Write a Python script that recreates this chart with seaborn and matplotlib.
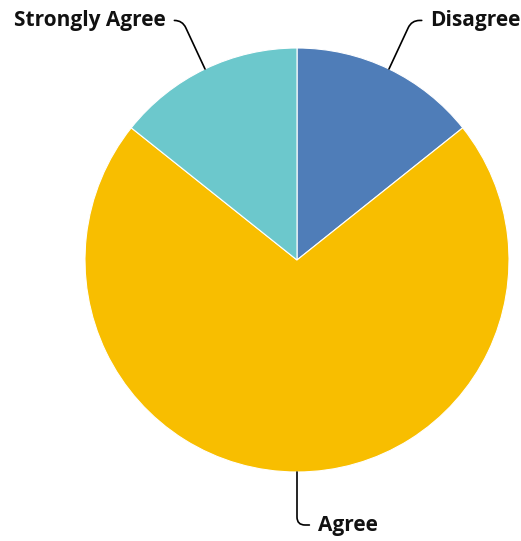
import matplotlib.pyplot as plt
import numpy as np
import seaborn as sns

labels = ["Disagree", "Agree", "Strongly Agree"]
counts = [1, 5, 1]
colors = ["#4F7DB8", "#F8BE00", "#6CC8CC"]

# label text placement (data units, pie radius = 1) and leader line angles
label_pos = [(0.63, 1.13), (0.10, -1.25), (-0.62, 1.13)]
label_ha = ["left", "left", "right"]
line_angle = [65, 90, 115]

sns.set_theme(style="white")
plt.rcParams["font.family"] = ["Open Sans", "DejaVu Sans"]

fig = plt.figure(figsize=(5.21, 5.41), dpi=100)
cx, cy, r = 297, 260, 212
ax = fig.add_axes([(cx - r) / 521, (541 - cy - r) / 541, 2 * r / 521, 2 * r / 541])

wedges, _ = ax.pie(
    counts,
    colors=colors,
    startangle=90,
    counterclock=False,
    radius=1,
    wedgeprops={"edgecolor": "white", "linewidth": 0.8},
)
ax.set_xlim(-1, 1)
ax.set_ylim(-1, 1)
ax.set_aspect("equal")
ax.axis("off")

for w, lab, pos, ha, ang in zip(wedges, labels, label_pos, label_ha, line_angle):
    mid = np.deg2rad((w.theta1 + w.theta2) / 2)
    xy = (np.cos(mid), np.sin(mid))
    ax.annotate(
        lab,
        xy=xy,
        xytext=pos,
        ha=ha,
        va="center",
        fontsize=15,
        fontweight="bold",
        color="#111111",
        annotation_clip=False,
        arrowprops=dict(
            arrowstyle="-",
            color="black",
            lw=1.2,
            shrinkA=4,
            shrinkB=0,
            connectionstyle=f"angle,angleA=0,angleB={ang},rad=8",
        ),
    )

fig.savefig("out.png", dpi=100)
